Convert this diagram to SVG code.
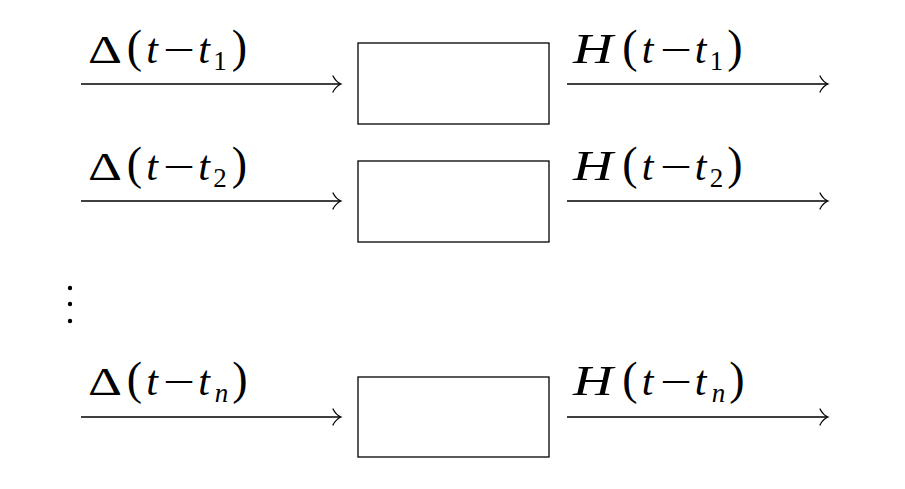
<svg xmlns="http://www.w3.org/2000/svg" width="905" height="489" viewBox="0 0 905 489">
<defs>
<style>
.box{fill:#fff;stroke:#000;stroke-width:1.3}
.ln{stroke:#000;stroke-width:1.3;fill:none}
.hd{stroke:#000;stroke-width:1.3;fill:none;stroke-linecap:round}
text{font-family:"Liberation Serif","Times New Roman",serif;font-size:40px;fill:#000}
.H{font-size:42px;font-style:italic}
.c{text-anchor:middle}
.t{font-size:42px;font-style:italic}
.D{font-size:41px}
.s{font-size:27px;text-anchor:middle}
.i{font-style:italic}
.p{font-size:46px;text-anchor:middle}
</style>
</defs>
<rect width="905" height="489" fill="#fff"/>
<g id="connectors">
<g id="in1"><line class="ln" x1="81" y1="84" x2="340" y2="84"/><path class="hd" d="M333,76 Q336,82 341,84 Q336,86 333,92"/></g>
<g id="out1"><line class="ln" x1="567" y1="84" x2="827" y2="84"/><path class="hd" d="M820,76 Q823,82 828,84 Q823,86 820,92"/></g>
<g id="in2"><line class="ln" x1="81" y1="201" x2="340" y2="201"/><path class="hd" d="M333,193 Q336,199 341,201 Q336,203 333,209"/></g>
<g id="out2"><line class="ln" x1="567" y1="201" x2="827" y2="201"/><path class="hd" d="M820,193 Q823,199 828,201 Q823,203 820,209"/></g>
<g id="inn"><line class="ln" x1="81" y1="417" x2="340" y2="417"/><path class="hd" d="M333,409 Q336,415 341,417 Q336,419 333,425"/></g>
<g id="outn"><line class="ln" x1="567" y1="417" x2="827" y2="417"/><path class="hd" d="M820,409 Q823,415 828,417 Q823,419 820,425"/></g>
</g>
<g id="box1"><rect class="box" x="358" y="43" width="191" height="81"/></g>
<g id="box2"><rect class="box" x="358" y="161" width="191" height="81"/></g>
<g id="boxn"><rect class="box" x="358" y="377" width="191" height="80"/></g>

<g id="label-in1" transform="translate(0,63)">
<text class="D" x="88" y="0" textLength="34" lengthAdjust="spacingAndGlyphs">Δ</text>
<text class="p" x="134.5" y="-1">(</text>
<text class="t c" x="152" y="0">t</text>
<text x="163" y="0" textLength="32" lengthAdjust="spacingAndGlyphs">−</text>
<text class="t c" x="204" y="0">t</text>
<text class="s" x="220" y="7">1</text>
<text class="p" x="239.5" y="-1">)</text>
</g>
<g id="label-out1" transform="translate(0,63)">
<text class="H" x="573" y="0" textLength="40" lengthAdjust="spacingAndGlyphs">H</text>
<text class="p" x="630" y="-1">(</text>
<text class="t c" x="647.5" y="0">t</text>
<text x="660" y="0" textLength="32" lengthAdjust="spacingAndGlyphs">−</text>
<text class="t c" x="700.5" y="0">t</text>
<text class="s" x="716.5" y="7">1</text>
<text class="p" x="735" y="-1">)</text>
</g>

<g id="label-in2" transform="translate(0,180)">
<text class="D" x="88" y="0" textLength="34" lengthAdjust="spacingAndGlyphs">Δ</text>
<text class="p" x="134.5" y="-1">(</text>
<text class="t c" x="152" y="0">t</text>
<text x="163" y="0" textLength="32" lengthAdjust="spacingAndGlyphs">−</text>
<text class="t c" x="204" y="0">t</text>
<text class="s" x="220" y="7">2</text>
<text class="p" x="239.5" y="-1">)</text>
</g>
<g id="label-out2" transform="translate(0,180)">
<text class="H" x="573" y="0" textLength="40" lengthAdjust="spacingAndGlyphs">H</text>
<text class="p" x="630" y="-1">(</text>
<text class="t c" x="647.5" y="0">t</text>
<text x="660" y="0" textLength="32" lengthAdjust="spacingAndGlyphs">−</text>
<text class="t c" x="700.5" y="0">t</text>
<text class="s" x="716.5" y="7">2</text>
<text class="p" x="735" y="-1">)</text>
</g>

<g id="label-inn" transform="translate(0,395)">
<text class="D" x="88" y="0" textLength="34" lengthAdjust="spacingAndGlyphs">Δ</text>
<text class="p" x="134.5" y="-1">(</text>
<text class="t c" x="152" y="0">t</text>
<text x="163" y="0" textLength="32" lengthAdjust="spacingAndGlyphs">−</text>
<text class="t c" x="204" y="0">t</text>
<text class="s i" x="221.5" y="7">n</text>
<text class="p" x="240" y="-1">)</text>
</g>
<g id="label-outn" transform="translate(0,395)">
<text class="H" x="573" y="0" textLength="40" lengthAdjust="spacingAndGlyphs">H</text>
<text class="p" x="630" y="-1">(</text>
<text class="t c" x="647.5" y="0">t</text>
<text x="660" y="0" textLength="32" lengthAdjust="spacingAndGlyphs">−</text>
<text class="t c" x="700.5" y="0">t</text>
<text class="s i" x="718.5" y="7">n</text>
<text class="p" x="737" y="-1">)</text>
</g>

<g id="vdots">
<circle cx="70" cy="288" r="2.2"/><circle cx="70" cy="304" r="2.2"/><circle cx="70" cy="321" r="2.2"/>
</g>
</svg>
